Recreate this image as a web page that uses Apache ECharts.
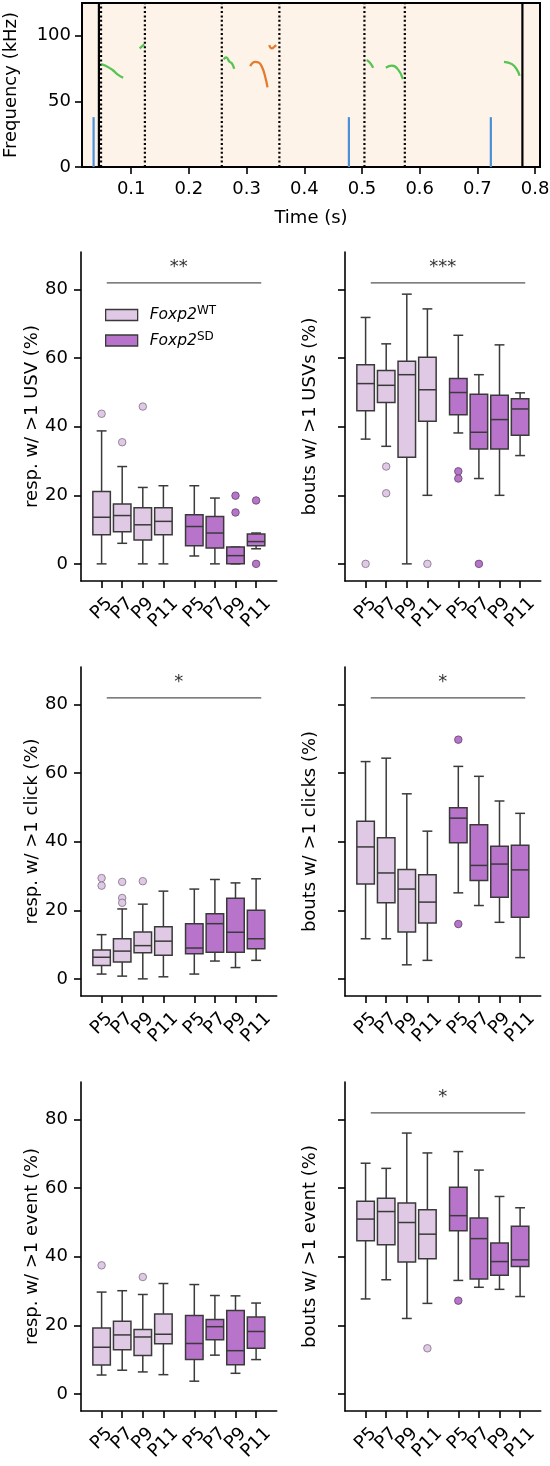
<!DOCTYPE html>
<html><head><meta charset="utf-8">
<script src="https://cdn.jsdelivr.net/npm/echarts@6.0.0/dist/echarts.min.js"></script>
<style>html,body{margin:0;padding:0;background:#fff}#c{width:550px;height:1466px}</style>
</head><body><div id="c"></div>
<script>
// ---------- Top panel (example trial) ----------
const timeTicks = [0.1, 0.2, 0.3, 0.4, 0.5, 0.6, 0.7, 0.8];
const timeTickLabels = ['0.1', '0.2', '0.3', '0.4', '0.5', '0.6', '0.7', '0.8'];
const freqTicks = [0, 50, 100];
const freqTickLabels = ['0', '50', '100'];
const segmentBounds = [0.044, 0.778];
const eventBounds = [0.0477, 0.1237, 0.257, 0.3568, 0.5042, 0.5742];
const clickTimes = [0.0348, 0.4773, 0.7233];
const clickTop = 38;
const usvContoursGreen = [
  [[0.0482, 78.2], [0.0556, 77.2], [0.0678, 73.9], [0.0756, 70.8], [0.0860, 68.0]],
  [[0.1146, 90.4], [0.1226, 93.4]],
  [[0.2600, 82.0], [0.2646, 83.5], [0.2704, 80.2], [0.2745, 79.0], [0.2785, 74.9]],
  [[0.5079, 81.5], [0.5134, 79.7], [0.5194, 75.6]],
  [[0.5413, 75.6], [0.5517, 77.2], [0.5620, 74.6], [0.5710, 67.0]],
  [[0.7460, 80.2], [0.7600, 78.4], [0.7690, 73.9], [0.7731, 69.6]]
];
const usvContoursOrange = [
  [[0.3062, 76.9], [0.3149, 80.2], [0.3207, 79.7], [0.3265, 76.4], [0.3322, 68.8], [0.3362, 60.7]],
  [[0.3392, 92.9], [0.3438, 90.4], [0.3478, 91.6], [0.3513, 92.9]]
];

// ---------- Box panels ----------
const ages = ['P5', 'P7', 'P9', 'P11'];
const genotypes = ['WT', 'SD'];
const geneName = 'Foxp2';
const pctTicks = [0, 20, 40, 60, 80];
const yNames = ['resp. w/ >1 USV (%)', 'bouts w/ >1 USVs (%)', 'resp. w/ >1 click (%)',
  'bouts w/ >1 clicks (%)', 'resp. w/ >1 event (%)', 'bouts w/ >1 event (%)'];
const sigLabels = ['**', '***', '*', '*', '', '*'];
const sigLevel = 82;
const sigSpan = [0.25, 7.75];

// each box: [lowWhisker, Q1, median, Q3, highWhisker]
const respUsvWT = [[0, 8.5, 13.6, 21.1, 38.8], [6.0, 9.4, 14.1, 17.5, 28.4], [0, 7.0, 11.4, 16.4, 22.3], [0, 8.5, 12.4, 16.4, 22.8]];
const respUsvSD = [[2.3, 5.3, 10.9, 14.3, 22.8], [0, 4.6, 9.0, 13.8, 19.2], [0, 0, 2.4, 4.9, 4.9], [4.4, 5.3, 6.5, 8.7, 9.0]];
const respUsvOutWT = [[43.8], [35.5], [45.9], []];
const respUsvOutSD = [[], [], [19.9, 15.0], [18.5, 0]];

const boutsUsvWT = [[36.4, 44.7, 52.6, 58.1, 71.9], [34.3, 47.1, 52.1, 56.4, 64.2], [0, 31.1, 55.2, 59.1, 78.7], [20.0, 41.6, 50.8, 60.3, 74.4]];
const boutsUsvSD = [[38.2, 43.5, 50.0, 54.1, 66.7], [24.9, 33.5, 38.4, 49.5, 55.2], [20.0, 33.5, 42.1, 49.2, 63.9], [31.6, 37.5, 45.2, 48.2, 49.9]];
const boutsUsvOutWT = [[0], [28.4, 20.6], [], [0]];
const boutsUsvOutSD = [[27.0, 24.9], [0], [], []];

const respClickWT = [[1.4, 3.9, 6.3, 8.4, 12.9], [0.8, 4.9, 8.1, 11.7, 20.4], [0, 7.6, 9.7, 13.7, 21.8], [0.6, 6.9, 11.0, 15.2, 25.6]];
const respClickSD = [[1.4, 7.3, 9.0, 16.1, 26.2], [5.2, 7.8, 16.1, 19.0, 29.0], [3.3, 7.8, 13.6, 23.5, 28.0], [5.4, 8.8, 11.7, 20.0, 29.2]];
const respClickOutWT = [[29.4, 27.2], [28.3, 23.6, 22.2], [28.5], []];
const respClickOutSD = [[], [], [], []];

const boutsClickWT = [[11.7, 27.7, 38.5, 46.0, 63.4], [11.7, 22.2, 30.9, 41.2, 64.4], [4.1, 13.7, 26.2, 31.9, 54.0], [5.4, 16.3, 22.4, 30.4, 43.1]];
const boutsClickSD = [[25.1, 39.7, 46.9, 49.9, 62.0], [21.4, 28.7, 33.1, 45.0, 59.1], [16.5, 23.8, 33.5, 38.7, 51.9], [6.2, 18.0, 31.8, 39.0, 48.3]];
const boutsClickOutWT = [[], [], [], []];
const boutsClickOutSD = [[69.8, 16.0], [], [], []];

const respEventWT = [[5.5, 8.4, 13.6, 19.2, 29.7], [6.9, 12.9, 17.2, 21.2, 30.1], [6.4, 11.2, 16.6, 18.8, 29.0], [5.6, 14.6, 17.4, 23.3, 32.2]];
const respEventSD = [[3.7, 10.0, 14.7, 22.9, 31.9], [11.3, 15.8, 19.6, 21.7, 28.7], [6.0, 8.5, 12.6, 24.3, 28.6], [10.0, 13.3, 18.2, 22.4, 26.5]];
const respEventOutWT = [[37.5], [], [34.1], []];
const respEventOutSD = [[], [], [], []];

const boutsEventWT = [[27.7, 44.7, 51.0, 56.2, 67.3], [33.3, 43.5, 53.2, 57.1, 65.8], [22.0, 38.5, 50.0, 55.7, 76.1], [26.4, 39.4, 46.6, 53.7, 70.3]];
const boutsEventSD = [[33.1, 47.6, 52.0, 60.3, 70.7], [31.1, 33.5, 45.3, 51.3, 65.3], [30.5, 34.6, 38.6, 44.0, 57.6], [28.4, 37.2, 39.1, 48.9, 54.3]];
const boutsEventOutWT = [[], [], [], [13.3]];
const boutsEventOutSD = [[27.2], [], [], []];

const panelBoxes = [
  [respUsvWT, respUsvSD, respUsvOutWT, respUsvOutSD],
  [boutsUsvWT, boutsUsvSD, boutsUsvOutWT, boutsUsvOutSD],
  [respClickWT, respClickSD, respClickOutWT, respClickOutSD],
  [boutsClickWT, boutsClickSD, boutsClickOutWT, boutsClickOutSD],
  [respEventWT, respEventSD, respEventOutWT, respEventOutSD],
  [boutsEventWT, boutsEventSD, boutsEventOutWT, boutsEventOutSD]
];

// ---------- styling ----------
const FONT = 'DejaVu Sans';
const FS = 18;
const EDGE = '#3a3a3a';
const FILLS = ['#dfc9e4', '#b874cb'];
const OUT_EDGE = ['#8c7a90', '#6a4d73'];
const GREEN = '#56c452', ORANGE = '#e57b2b', BLUE = '#4b8fd8';
const BOX_W = 0.85, CAP_W = 0.48, GROUP_GAP = 4.5;
const pos = (g, i) => i + g * GROUP_GAP;
const tickPos = [];
genotypes.forEach((g, gi) => ages.forEach((a, i) => tickPos.push(pos(gi, i))));
const tickNames = genotypes.flatMap(() => ages);

const txt = {fontSize: FS, color: '#000', fontFamily: FONT};
const measureCtx = document.createElement('canvas').getContext('2d');
measureCtx.font = FS + 'px "' + FONT + '"';
const textW = s => measureCtx.measureText(s).width;

const grids = [{left: 82, top: 3, width: 458, height: 164, show: true, backgroundColor: '#fdf3e9',
  borderColor: '#000', borderWidth: 2, outerBoundsMode: 'none', containLabel: false}];
const xAxes = [{
  gridIndex: 0, type: 'value', min: 0.0147, max: 0.8085,
  axisLine: {show: true, onZero: false, lineStyle: {color: '#000', width: 2}},
  axisTick: {show: true, length: 7, lineStyle: {color: '#000', width: 1.6}, customValues: timeTicks},
  axisLabel: Object.assign({customValues: timeTicks, margin: 13, showMinLabel: true, showMaxLabel: true,
    formatter: v => timeTickLabels[timeTicks.indexOf(v)]}, txt),
  splitLine: {show: false},
  name: 'Time (s)', nameLocation: 'middle', nameGap: 42, nameTextStyle: txt
}];
const yAxes = [{
  gridIndex: 0, type: 'value', min: 0, max: 125,
  axisLine: {show: true, onZero: false, lineStyle: {color: '#000', width: 2}},
  axisTick: {show: true, length: 7, lineStyle: {color: '#000', width: 1.6}, customValues: freqTicks},
  axisLabel: Object.assign({customValues: freqTicks, margin: 11, showMinLabel: true, showMaxLabel: true,
    formatter: v => freqTickLabels[freqTicks.indexOf(v)]}, txt),
  splitLine: {show: false},
  name: 'Frequency (kHz)', nameLocation: 'middle', nameGap: 62, nameTextStyle: txt
}];

const series = [];
function vlineRenderer(color, width, dash, topVal) {
  return function (params, api) {
    const t = api.value(0);
    const p0 = api.coord([t, 0]);
    const p1 = topVal == null ? [p0[0], params.coordSys.y] : api.coord([t, topVal]);
    return {type: 'line', shape: {x1: p0[0], y1: p0[1], x2: p1[0], y2: p1[1]},
      style: {stroke: color, lineWidth: width, lineDash: dash}};
  };
}
series.push({type: 'custom', name: 'segment', xAxisIndex: 0, yAxisIndex: 0, silent: true,
  data: segmentBounds.map(t => [t]), renderItem: vlineRenderer('#000', 2.2, null, null), z: 3});
series.push({type: 'custom', name: 'events', xAxisIndex: 0, yAxisIndex: 0, silent: true,
  data: eventBounds.map(t => [t]), renderItem: vlineRenderer('#000', 2.2, [2, 2.4], null), z: 3});
series.push({type: 'custom', name: 'clicks', xAxisIndex: 0, yAxisIndex: 0, silent: true,
  data: clickTimes.map(t => [t]), renderItem: vlineRenderer(BLUE, 2.2, null, clickTop), z: 3});
usvContoursGreen.forEach(c => series.push({type: 'line', xAxisIndex: 0, yAxisIndex: 0, data: c,
  showSymbol: false, smooth: 0.5, silent: true, lineStyle: {color: GREEN, width: 2.3}, z: 4}));
usvContoursOrange.forEach(c => series.push({type: 'line', xAxisIndex: 0, yAxisIndex: 0, data: c,
  showSymbol: false, smooth: 0.5, silent: true, lineStyle: {color: ORANGE, width: 2.3}, z: 4}));

function boxRenderer(fill) {
  return function (params, api) {
    const x = api.value(0);
    const cx = api.coord([x, 0])[0];
    const hw = api.coord([x + BOX_W / 2, 0])[0] - cx;
    const cw = api.coord([x + CAP_W / 2, 0])[0] - cx;
    const y = k => api.coord([x, api.value(k)])[1];
    const yLo = y(1), yQ1 = y(2), yMd = y(3), yQ3 = y(4), yHi = y(5);
    const ls = {stroke: EDGE, lineWidth: 1.5};
    return {type: 'group', children: [
      {type: 'line', shape: {x1: cx, y1: yLo, x2: cx, y2: yQ1}, style: ls},
      {type: 'line', shape: {x1: cx, y1: yQ3, x2: cx, y2: yHi}, style: ls},
      {type: 'line', shape: {x1: cx - cw, y1: yLo, x2: cx + cw, y2: yLo}, style: ls},
      {type: 'line', shape: {x1: cx - cw, y1: yHi, x2: cx + cw, y2: yHi}, style: ls},
      {type: 'rect', shape: {x: cx - hw, y: yQ3, width: 2 * hw, height: Math.max(yQ1 - yQ3, 0.5)},
        style: {fill: fill, stroke: EDGE, lineWidth: 1.5}},
      {type: 'line', shape: {x1: cx - hw, y1: yMd, x2: cx + hw, y2: yMd}, style: ls}
    ]};
  };
}

function sigRenderer(label) {
  return function (params, api) {
    const p1 = api.coord([api.value(0), api.value(2)]);
    const p2 = api.coord([api.value(1), api.value(2)]);
    const ps = api.coord([api.value(3), api.value(2)]);
    return {type: 'group', children: [
      {type: 'line', shape: {x1: p1[0], y1: p1[1], x2: p2[0], y2: p2[1]}, style: {stroke: '#555', lineWidth: 1.3}},
      {type: 'text', x: ps[0], y: ps[1] - 16, style: {text: label, fontSize: FS, fontFamily: FONT,
        fill: '#333', align: 'center', verticalAlign: 'middle'}}
    ]};
  };
}

// rotated (45 deg) tick labels: bounding box centred on the tick, top just under the tick mark
function tickLabelRenderer(params, api) {
  const px = api.coord([api.value(0), 0])[0];
  const cs = params.coordSys;
  const by = cs.y + cs.height;
  const label = tickNames[params.dataIndex];
  const half = (textW(label) + 21) * Math.SQRT1_2 / 2;
  return {type: 'text', x: px, y: by + 12.5 + half, rotation: Math.PI / 4,
    style: {text: label, fontSize: FS, fontFamily: FONT, fill: '#000',
      align: 'center', verticalAlign: 'middle'}};
}

for (let p = 0; p < 6; p++) {
  const r = Math.floor(p / 2), c = p % 2;
  const gi = p + 1;
  grids.push({left: c === 0 ? 81 : 345, top: 252 + 415 * r, width: 195.7, height: 329,
    outerBoundsMode: 'none', containLabel: false});
  xAxes.push({
    gridIndex: gi, type: 'value', min: -1, max: 8.5,
    axisLine: {show: true, onZero: false, lineStyle: {color: '#000', width: 1.6}},
    axisTick: {show: true, length: 7, lineStyle: {color: '#000', width: 1.6}, customValues: tickPos},
    axisLabel: {show: false},
    splitLine: {show: false}
  });
  yAxes.push({
    gridIndex: gi, type: 'value', min: -5, max: 91,
    axisLine: {show: true, onZero: false, lineStyle: {color: '#000', width: 1.6}},
    axisTick: {show: true, length: 7, lineStyle: {color: '#000', width: 1.6}, customValues: pctTicks},
    axisLabel: Object.assign({show: c === 0, customValues: pctTicks, margin: 13, showMinLabel: true, showMaxLabel: true}, txt),
    splitLine: {show: false},
    name: yNames[p], nameLocation: 'middle', nameGap: c === 0 ? 38 : 26, nameTextStyle: txt
  });
  const [wt, sd, outWT, outSD] = panelBoxes[p];
  [wt, sd].forEach((boxes, g) => {
    series.push({type: 'custom', name: genotypes[g], xAxisIndex: gi, yAxisIndex: gi,
      itemStyle: {color: FILLS[g]}, encode: {x: 0, y: [1, 2, 3, 4, 5]},
      data: boxes.map((b, i) => [pos(g, i)].concat(b)), renderItem: boxRenderer(FILLS[g]), z: 3});
  });
  [outWT, outSD].forEach((outs, g) => {
    const pts = [];
    outs.forEach((arr, i) => arr.forEach(v => pts.push([pos(g, i), v])));
    series.push({type: 'scatter', name: genotypes[g] + ' outliers', xAxisIndex: gi, yAxisIndex: gi,
      data: pts, symbolSize: 7.5, itemStyle: {color: FILLS[g], borderColor: OUT_EDGE[g], borderWidth: 0.9, opacity: 1}, z: 4});
  });
  if (sigLabels[p]) {
    series.push({type: 'custom', name: 'sig' + p, xAxisIndex: gi, yAxisIndex: gi, silent: true,
      data: [[sigSpan[0], sigSpan[1], sigLevel, (tickPos[0] + tickPos[tickPos.length - 1]) / 2]],
      encode: {x: [0, 1, 3], y: 2}, renderItem: sigRenderer(sigLabels[p]), z: 5});
  }
  series.push({type: 'custom', name: 'ticklabels' + p, xAxisIndex: gi, yAxisIndex: gi, silent: true, clip: false,
    data: tickPos.map(t => [t, 0]), encode: {x: 0, y: 1}, renderItem: tickLabelRenderer, z: 5});
}

const chart = echarts.init(document.getElementById('c'), null, {renderer: 'canvas', width: 550, height: 1466});
chart.setOption({
  animation: false,
  backgroundColor: '#fff',
  grid: grids, xAxis: xAxes, yAxis: yAxes, series: series,
  legend: {
    data: genotypes.map((g, i) => ({name: g, icon: 'rect', itemStyle: {color: FILLS[i], borderColor: EDGE, borderWidth: 1.3}})),
    orient: 'vertical', left: 105, top: 305, itemWidth: 32, itemHeight: 11, itemGap: 7.5, padding: 0,
    selectedMode: false,
    formatter: n => '{i|' + geneName + '}{s|' + n + '}',
    textStyle: {rich: {
      i: {fontSize: 15.5, fontStyle: 'italic', fontFamily: FONT, color: '#000', lineHeight: 20, padding: [0, 0, 0, 7]},
      s: {fontSize: 12, fontFamily: FONT, color: '#000', verticalAlign: 'top', lineHeight: 12}
    }}
  }
});
</script></body></html>
